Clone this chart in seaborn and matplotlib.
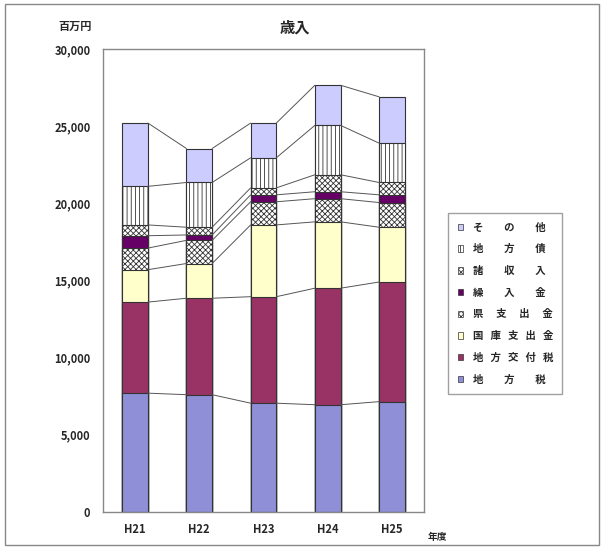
import matplotlib
matplotlib.use('Agg')
import matplotlib.pyplot as plt
import matplotlib.patches as mpatches
import seaborn as sns
import numpy as np
import pandas as pd

##################################################################################
# data (百万円)
##################################################################################
years = ['H21', 'H22', 'H23', 'H24', 'H25']

# stacking order: bottom -> top
items = ['地方税', '地方交付税', '国庫支出金', '県支出金',
         '繰入金', '諸収入', '地方債', 'その他']

chihozei   = [7700, 7600, 7050, 6950, 7150]
kofuzei    = [5900, 6250, 6900, 7550, 7750]
kokko      = [2100, 2250, 4650, 4300, 3550]
ken        = [1400, 1500, 1500, 1500, 1600]
kuriire    = [800, 350, 450, 450, 500]
shoshunyu  = [700, 500, 450, 1100, 800]
chihosai   = [2500, 2900, 1950, 3200, 2550]
sonota     = [4100, 2200, 2250, 2600, 3000]

values = [chihozei, kofuzei, kokko, ken, kuriire, shoshunyu, chihosai, sonota]

yticks = [0, 5000, 10000, 15000, 20000, 25000, 30000]

# styles per item
colors = ['#8f8fd8', '#993366', '#ffffcc', '#ffffff',
          '#660066', '#ffffff', '#ffffff', '#ccccff']
hatches = [None, None, None, 'xxxxxx', None, 'xxxxxx', '||||', None]

##################################################################################
# plotting
##################################################################################
sns.set_style('white')
plt.rcParams['font.family'] = ['Noto Sans CJK JP', 'DejaVu Sans']
plt.rcParams['hatch.linewidth'] = 0.6
plt.rcParams['hatch.color'] = '#333333'

fig = plt.figure(figsize=(6.04, 5.49), dpi=100)
ax = fig.add_axes([0.1705, 0.0674, 0.5315, 0.8434])

df = pd.DataFrame({'year': years})
cum = np.cumsum(np.array(values), axis=0)
for i, name in enumerate(items):
    df[name] = cum[i]

bar_w = 0.4
# draw from the top cumulative level down so lower segments overlay
for i in range(len(items) - 1, -1, -1):
    kw = dict(hatch=hatches[i]) if hatches[i] else {}
    sns.barplot(data=df, x='year', y=items[i], color=colors[i],
                saturation=1, width=bar_w, edgecolor='#333333',
                linewidth=0.8, ax=ax, **kw)

# series lines between bars
xs = np.arange(len(years))
for i in range(len(items)):
    for j in range(len(years) - 1):
        ax.plot([xs[j] + bar_w / 2, xs[j + 1] - bar_w / 2],
                [cum[i][j], cum[i][j + 1]], color='#555555', lw=0.7,
                zorder=1)

ax.set_xlim(-0.5, len(years) - 0.5)
ax.set_ylim(0, 30000)
ax.set_yticks(yticks)
ax.set_yticklabels(['{:,}'.format(v) for v in yticks],
                   fontsize=8, fontweight='bold')
ax.set_xticklabels(years, fontsize=8, fontweight='bold')
ax.set_xlabel('')
ax.set_ylabel('')
ax.tick_params(axis='y', length=0, pad=9)
ax.tick_params(axis='x', length=0, pad=8)
for s in ax.spines.values():
    s.set_color('#888888')
    s.set_linewidth(1.0)

# legend (top -> bottom as in original)
disp = {
    'その他': 'そ\u3000\u3000の\u3000\u3000他',
    '地方債': '地\u3000\u3000方\u3000\u3000債',
    '諸収入': '諸\u3000\u3000収\u3000\u3000入',
    '繰入金': '繰\u3000\u3000入\u3000\u3000金',
    '県支出金': '県\u3000 支\u3000 出\u3000 金',
    '国庫支出金': '国   庫   支   出   金',
    '地方交付税': '地   方   交   付   税',
    '地方税': '地\u3000\u3000方\u3000\u3000税',
}
handles = []
for i in range(len(items) - 1, -1, -1):
    handles.append(mpatches.Patch(facecolor=colors[i], edgecolor='#333333',
                                  hatch=hatches[i], linewidth=0.5,
                                  label=disp[items[i]]))
leg = fig.legend(handles=handles, loc='upper left',
                 bbox_to_anchor=(0.742, 0.612), fontsize=7.5,
                 frameon=True, fancybox=False, edgecolor='#888888',
                 handlelength=0.55, handleheight=0.55, handletextpad=0.9,
                 labelspacing=1.12, borderpad=0.9, borderaxespad=0)
leg.get_frame().set_linewidth(1.0)
for t in leg.get_texts():
    t.set_fontweight('bold')

# titles / units
fig.text(0.488, 0.949, '歳入', ha='center', va='center', fontsize=11,
         fontweight='bold')
fig.text(0.125, 0.951, '百万円', ha='center', va='center', fontsize=8,
         fontweight='bold')
fig.text(0.725, 0.022, '年度', ha='center', va='center', fontsize=7,
         fontweight='bold')

# outer frame
fig.patches.append(mpatches.Rectangle((0.008, 0.008), 0.984, 0.984,
                                      transform=fig.transFigure,
                                      fill=False, edgecolor='#888888',
                                      linewidth=1.0))

plt.savefig('out.png', dpi=100)
